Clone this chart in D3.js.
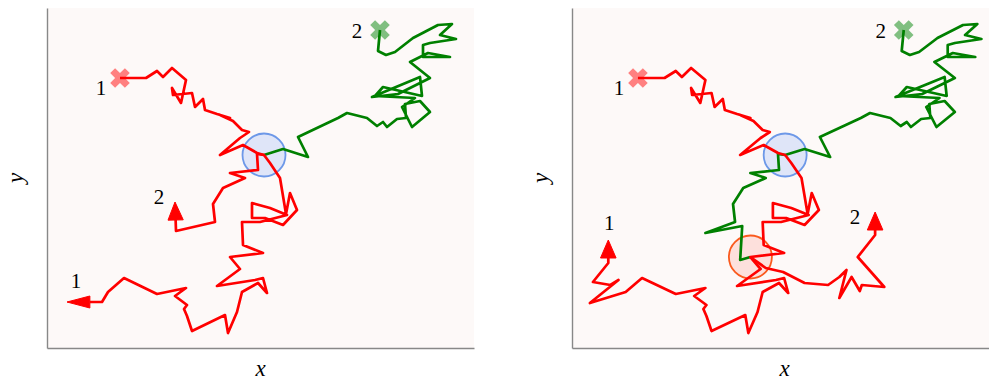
<!DOCTYPE html>
<html>
<head>
<meta charset="utf-8">
<script src="https://cdn.jsdelivr.net/npm/d3@7"></script>
<style>
body { margin: 0; background: #fff; }
svg { display: block; }
</style>
</head>
<body>
<script>
// Walker 1: start (cross "1") -> first meeting point
const walk1Start = [[73,270],[99,270],[110,277],[116,271],[125,280],[139,268],[134,245],[125,260],[126,253],[145,255],[148,241],[156,249],[158,238],[170,234],[183,230],[173,233],[186,227],[195,218],[202,216],[193,210],[173,193],[196,203],[210,195],[217,193]];
// Walker 2: start (cross "2") -> first meeting point
const walk2Start = [[333,318],[331,297],[339,293],[348,296],[366,310],[391,323],[405,324],[393,313],[409,309],[383,305],[376,303],[376,291],[403,291],[381,295],[363,286],[383,270],[351,254],[325,251],[373,271],[375,252],[336,261],[328,252],[368,250],[355,241],[365,221],[383,236],[373,247],[358,244],[359,230],[350,229],[340,221],[336,226],[330,222],[320,230],[300,235],[291,230],[251,211],[261,191],[236,199],[217,193]];
// Walker 1 after the first meeting
const walk1Mid = [[217,193],[223,185],[233,170],[239,134],[243,155],[250,138],[236,123],[218,130],[205,130],[205,145],[223,140],[240,133],[213,126],[195,126],[196,103],[216,95],[183,91]];
const walk1Late = [[183,91],[193,79],[170,62],[208,68],[216,70],[220,55],[211,65],[195,56],[190,36],[181,15],[178,33],[145,17],[140,32],[137,39],[140,43],[128,52],[139,60],[110,54],[77,70],[61,56]];
const walk1EndA = [[61,56],[55,46],[20,46]];
const walk1EndB = [[61,56],[26,45],[54,68],[46,63],[29,66],[44,85],[44,108]];
// Walker 2 after the first meeting
const walk2Mid = [[217,193],[210,194],[211,178],[183,175],[198,170],[176,160],[166,144],[168,126]];
const walk2EndA = [[168,126],[129,117],[128,146]];
const walk2ToSecond = [[168,126],[139,115],[175,122],[173,88],[183,91]];
const walk2EndB = [[183,91],[198,80],[215,76],[236,65],[259,63],[270,71],[277,78],[270,50],[282,71],[290,57],[292,63],[314,61],[288,91],[305,113],[305,136]];

const firstMeeting = [217,193];
const secondMeeting = [183,91];
const yDomain = [0, 340];

const width = 989;
const height = 381;
const xPerUnit = 1.27;   // data aspect (x unit is wider than y unit)
const headLen = 18;
const headWidth = 12;
const lineWidth = 2.7;

const join = (...parts) => parts.reduce((acc, p) => acc.concat(acc.length ? p.slice(1) : p), []);

const panels = [
  {
    xDomain: [0, 427], xRange: [47, 474],
    lines: [
      { pts: walk2Start, color: 'green' },
      { pts: join(walk1Start, walk1Mid, walk1Late, walk1EndA), color: 'red', arrow: true },
      { pts: join(walk2Mid, walk2EndA), color: 'red', arrow: true }
    ],
    circles: [{ at: firstMeeting, fill: '#dfe5f8', stroke: '#6d98e8' }],
    labels: [
      { at: walk1Start[0], text: '1', dx: -19, dy: 10 },
      { at: walk2Start[0], text: '2', dx: -23, dy: 1 },
      { at: walk1EndA[walk1EndA.length - 1], text: '1', dx: 9, dy: -21 },
      { at: walk2EndA[walk2EndA.length - 1], text: '2', dx: -16, dy: -5 }
    ]
  },
  {
    xDomain: [8.5, 416.4], xRange: [572, 989],
    lines: [
      { pts: join(walk2Start, walk2Mid, walk2ToSecond), color: 'green' },
      { pts: join(walk1Start, walk1Mid, walk1Late, walk1EndB), color: 'red', arrow: true },
      { pts: walk2EndB, color: 'red', arrow: true }
    ],
    circles: [
      { at: firstMeeting, fill: '#dfe5f8', stroke: '#6d98e8' },
      { at: secondMeeting, fill: '#fde0dc', stroke: '#fa5a1e' }
    ],
    labels: [
      { at: walk1Start[0], text: '1', dx: -19, dy: 10 },
      { at: walk2Start[0], text: '2', dx: -23, dy: 1 },
      { at: walk1EndB[walk1EndB.length - 1], text: '1', dx: 1, dy: -17 },
      { at: walk2EndB[walk2EndB.length - 1], text: '2', dx: -20, dy: 5 }
    ]
  }
];

const svg = d3.select('body')
  .append('svg')
  .attr('width', width)
  .attr('height', height);

// arrow head computed in "true" data units so it stretches like the original
function arrowHead(pts) {
  const [x0, y0] = pts[pts.length - 2];
  const [x1, y1] = pts[pts.length - 1];
  const dx = (x1 - x0) / xPerUnit, dy = y1 - y0;
  const len = Math.hypot(dx, dy);
  const ux = dx / len, uy = dy / len;
  const base = [x1 - headLen * ux * xPerUnit, y1 - headLen * uy];
  const h = headWidth / 2;
  return {
    base,
    tri: [[x1, y1],
          [base[0] - uy * h * xPerUnit, base[1] + ux * h],
          [base[0] + uy * h * xPerUnit, base[1] - ux * h]]
  };
}

panels.forEach(p => {
  const x = d3.scaleLinear().domain(p.xDomain).range(p.xRange);
  const y = d3.scaleLinear().domain(yDomain).range([348, 8]);
  const g = svg.append('g');

  g.append('rect')
    .attr('x', x(p.xDomain[0]))
    .attr('y', y(yDomain[1]))
    .attr('width', x(p.xDomain[1]) - x(p.xDomain[0]))
    .attr('height', y(yDomain[0]) - y(yDomain[1]))
    .attr('fill', '#fdf9f8');

  g.selectAll('circle')
    .data(p.circles)
    .enter()
    .append('circle')
    .attr('cx', d => x(d.at[0]))
    .attr('cy', d => y(d.at[1]))
    .attr('r', 21.5)
    .attr('fill', d => d.fill)
    .attr('stroke', d => d.stroke)
    .attr('stroke-width', 1.8);

  const line = d3.line().x(d => x(d[0])).y(d => y(d[1]));

  // start crosses
  g.selectAll('path.start')
    .data([walk1Start[0], walk2Start[0]])
    .enter()
    .append('path')
    .attr('class', 'start')
    .attr('d', d3.symbol().type(d3.symbolCross).size(240))
    .attr('transform', d => `translate(${x(d[0])},${y(d[1])}) rotate(45)`)
    .attr('fill', (d, i) => i === 0 ? '#ff8080' : '#80bf80');

  p.lines.forEach(l => {
    let pts = l.pts;
    if (l.arrow) {
      const a = arrowHead(pts);
      pts = pts.slice(0, -1).concat([a.base]);
      g.append('path')
        .attr('d', line(a.tri) + 'Z')
        .attr('fill', l.color)
        .attr('stroke', l.color)
        .attr('stroke-width', 1)
        .attr('stroke-linejoin', 'miter');
    }
    g.append('path')
      .attr('d', line(pts))
      .attr('fill', 'none')
      .attr('stroke', l.color)
      .attr('stroke-width', lineWidth)
      .attr('stroke-linejoin', 'round');
  });

  g.selectAll('text.num')
    .data(p.labels)
    .enter()
    .append('text')
    .attr('class', 'num')
    .attr('x', d => x(d.at[0]) + d.dx)
    .attr('y', d => y(d.at[1]) + d.dy)
    .attr('dy', '0.35em')
    .attr('text-anchor', 'middle')
    .style('font', '21px "Liberation Serif", serif')
    .text(d => d.text);

  // spines
  g.append('g')
    .attr('transform', `translate(0,${y(yDomain[0])})`)
    .call(d3.axisBottom(x).ticks(0).tickSizeOuter(0))
    .call(a => a.select('.domain').attr('stroke', '#888').attr('stroke-width', 1.4));
  g.append('g')
    .attr('transform', `translate(${x(p.xDomain[0])},0)`)
    .call(d3.axisLeft(y).ticks(0).tickSizeOuter(0))
    .call(a => a.select('.domain').attr('stroke', '#888').attr('stroke-width', 1.4));

  const xm = (p.xRange[0] + p.xRange[1]) / 2 + (p.xRange[0] > 500 ? 4 : 0);
  g.append('text')
    .attr('x', xm)
    .attr('y', 376)
    .attr('text-anchor', 'middle')
    .style('font', 'italic 23px "Liberation Serif", serif')
    .text('x');
  g.append('text')
    .attr('transform', `translate(${p.xRange[0] - 24},${y(170)}) rotate(-90)`)
    .attr('text-anchor', 'middle')
    .style('font', 'italic 23px "Liberation Serif", serif')
    .text('y');
});
</script>
</body>
</html>
